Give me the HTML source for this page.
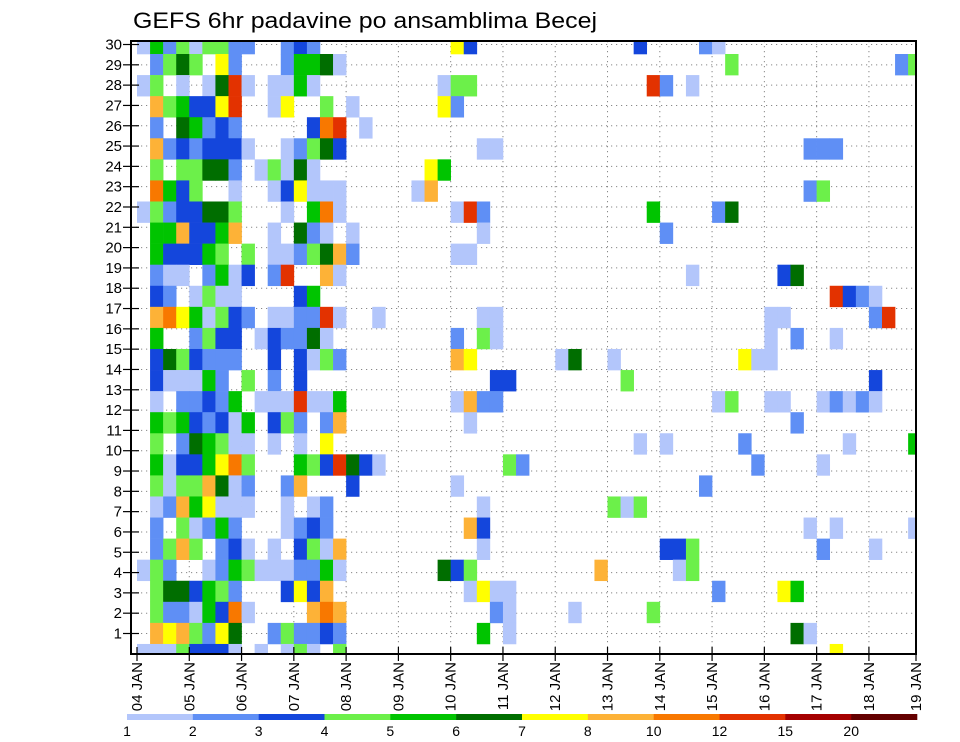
<!DOCTYPE html>
<html>
<head>
<meta charset="utf-8">
<style>
  html,body{margin:0;padding:0;background:#fff;}
  svg{display:block;font-family:"Liberation Sans",sans-serif;}
</style>
</head>
<body>
<svg id="chart" width="960" height="742" viewBox="0 0 960 742" xmlns="http://www.w3.org/2000/svg">
  <defs>
    <clipPath id="plotClip"><rect x="131" y="41" width="785" height="613"/></clipPath>
  </defs>
  <text x="133" y="28" font-size="22" textLength="464" lengthAdjust="spacingAndGlyphs" fill="#000">GEFS 6hr padavine po ansamblima Becej</text>
  <g id="grid"></g>
  <g id="cells" clip-path="url(#plotClip)"></g>
  <rect x="131" y="41" width="785" height="613" fill="none" stroke="#000" stroke-width="2"/>
  <g id="yaxis"></g>
  <g id="xaxis"></g>
  <g id="colorbar"></g>
</svg>
<script>
// ---- data ----
// color codes per 6h cell: 0 none, 1..9,a,b,c = colorbar classes
const palette = ["none","#b3c6fb","#5f8ff5","#1446dc","#6cf04a","#00c400","#006e00","#ffff00","#fdb237","#f87800","#e33200","#a50000","#640000"];
const levelLabels = ["1","2","3","4","5","6","7","8","10","12","15","20"];
const dayLabels = ["04 JAN","05 JAN","06 JAN","07 JAN","08 JAN","09 JAN","10 JAN","11 JAN","12 JAN","13 JAN","14 JAN","15 JAN","16 JAN","17 JAN","18 JAN","19 JAN"];
const memberTicks = [1,2,3,4,5,6,7,8,9,10,11,12,13,14,15,16,17,18,19,20,21,22,23,24,25,26,27,28,29,30];
// first 17 time steps for each ensemble band (top band first)
const leftBlockCodes = [
"15241442200232000",
"02464072000255610",
"1401016a101151000",
"0845337a001700401",
"020652320000039a0",
"08232333100124630",
"04044662014161000",
"09534001001371110",
"14233664000105910",
"05583358001062101",
"05333540401124682",
"02110251302a00810",
"03201411000035000",
"08975143201122a10",
"05002433013226100",
"03643222003031420",
"03111520402030000",
"010223250111a1150",
"05453231503420280",
"04026541101010700",
"051335794000543a6",
"04144861200280003",
"01285711100101200",
"02041252000123200",
"02484023101034180",
"14200125411122510",
"04663542000373800",
"04221539100008980",
"08784276002422320",
"11143331010141040"
];
// later cells: [band, timestep, code]
const sparseCells = [
[0,24,"7"],[0,25,"3"],[0,38,"3"],[0,43,"2"],[0,44,"1"],
[1,45,"4"],[1,58,"2"],[1,59,"4"],
[2,23,"1"],[2,24,"4"],[2,25,"4"],[2,39,"a"],[2,40,"2"],[2,42,"1"],
[3,23,"7"],[3,24,"2"],
[4,17,"1"],
[5,26,"1"],[5,27,"1"],[5,51,"2"],[5,52,"2"],[5,53,"2"],
[6,22,"7"],[6,23,"5"],
[7,21,"1"],[7,22,"8"],[7,51,"2"],[7,52,"4"],
[8,24,"1"],[8,25,"a"],[8,26,"2"],[8,39,"5"],[8,44,"2"],[8,45,"6"],
[9,26,"1"],[9,40,"2"],
[10,24,"1"],[10,25,"1"],
[11,42,"1"],[11,49,"3"],[11,50,"6"],
[12,53,"a"],[12,54,"3"],[12,55,"2"],[12,56,"1"],
[13,18,"1"],[13,26,"1"],[13,27,"1"],[13,48,"1"],[13,49,"1"],[13,56,"2"],[13,57,"a"],
[14,24,"2"],[14,26,"4"],[14,27,"1"],[14,48,"1"],[14,50,"2"],[14,53,"1"],
[15,24,"8"],[15,25,"7"],[15,32,"1"],[15,33,"6"],[15,36,"1"],[15,46,"7"],[15,47,"1"],[15,48,"1"],
[16,27,"3"],[16,28,"3"],[16,37,"4"],[16,56,"3"],
[17,24,"1"],[17,25,"8"],[17,26,"2"],[17,27,"2"],[17,44,"1"],[17,45,"4"],[17,48,"1"],[17,49,"1"],[17,52,"1"],[17,53,"2"],[17,54,"1"],[17,55,"2"],[17,56,"1"],
[18,25,"1"],[18,50,"2"],
[19,38,"1"],[19,40,"1"],[19,46,"2"],[19,54,"1"],[19,59,"5"],
[20,17,"3"],[20,18,"1"],[20,28,"4"],[20,29,"2"],[20,47,"2"],[20,52,"1"],
[21,24,"1"],[21,43,"2"],
[22,26,"1"],[22,36,"4"],[22,37,"1"],[22,38,"4"],
[23,25,"8"],[23,26,"3"],[23,51,"1"],[23,53,"1"],[23,59,"1"],
[24,26,"1"],[24,40,"3"],[24,41,"3"],[24,42,"4"],[24,52,"2"],[24,56,"1"],
[25,23,"6"],[25,24,"3"],[25,25,"4"],[25,35,"8"],[25,41,"1"],[25,42,"4"],
[26,25,"1"],[26,26,"7"],[26,27,"1"],[26,28,"1"],[26,44,"2"],[26,49,"7"],[26,50,"5"],
[27,27,"2"],[27,28,"1"],[27,33,"1"],[27,39,"4"],
[28,26,"5"],[28,28,"1"],[28,50,"6"],[28,51,"1"],
[29,53,"7"]
];

// ---- scales ----
const NS = "http://www.w3.org/2000/svg";
const X0 = 137, STEP_W = 13.07, DAY_W = STEP_W*4, X_RIGHT = 916;
const BAND_H = 21.07, BAND_Y0 = 54 - 21.07;
function xScale(step){ return X0 + step*STEP_W; }
function bandTop(band){ return BAND_Y0 + band*BAND_H; }
function yTick(member){ return 633.5 - (member-1)*20.31; }
function mk(tag, attrs, parent){
  const e = document.createElementNS(NS, tag);
  for (const k in attrs) e.setAttribute(k, attrs[k]);
  parent.appendChild(e);
  return e;
}
function codeIndex(c){ return parseInt(c, 16); }

const cellsG = document.getElementById("cells");
function drawCell(band, step, code){
  const idx = codeIndex(code);
  if (!idx) return;
  const r = mk("rect", {x: xScale(step).toFixed(2), y: bandTop(band).toFixed(2), width: (STEP_W+0.3).toFixed(2), height: (BAND_H+0.3).toFixed(2), fill: palette[idx]}, cellsG);
  
  
}
leftBlockCodes.forEach((row, band) => {
  row.split("").forEach((c, step) => drawCell(band, step, c));
});
sparseCells.forEach(([band, step, code]) => drawCell(band, step, code));

// ---- grid ----
const gridG = document.getElementById("grid");
memberTicks.forEach(m => {
  const y = yTick(m);
  const l = mk("line", {x1: 131, x2: 916, y1: y, y2: y, stroke: "#888", "stroke-width": 1, "stroke-dasharray": "1.2,3.8"}, gridG);
  
  
});
dayLabels.forEach((d, i) => {
  const x = Math.min(X0 + i*DAY_W, X_RIGHT);
  if (i === 0 || x >= X_RIGHT) return;
  const l = mk("line", {x1: x, x2: x, y1: 41, y2: 654, stroke: "#888", "stroke-width": 1, "stroke-dasharray": "1.2,3.8"}, gridG);
  
  
});

// ---- y axis ----
const yG = document.getElementById("yaxis");
memberTicks.forEach(m => {
  const y = yTick(m);
  const t = mk("line", {x1: 123, x2: 139, y1: y, y2: y, stroke: "#000", "stroke-width": 1.2}, yG);
  
  
  const tx = mk("text", {x: 122, y: y + 5, "font-size": 15, "text-anchor": "end", fill: "#000"}, yG);
  tx.textContent = String(m);
  
  
});

// ---- x axis ----
const xG = document.getElementById("xaxis");
dayLabels.forEach((d, i) => {
  const x = Math.min(X0 + i*DAY_W, X_RIGHT);
  const t = mk("line", {x1: x, x2: x, y1: 647, y2: 661, stroke: "#000", "stroke-width": 1.2}, xG);
  
  
  const tx = mk("text", {x: 0, y: 0, "font-size": 15, "text-anchor": "end", fill: "#000", transform: `translate(${(x+5).toFixed(1)},662) rotate(-90)`}, xG);
  tx.textContent = d;
  
  
});

// ---- colorbar ----
const cbG = document.getElementById("colorbar");
const CB_X0 = 127, CB_X1 = 917, CB_N = palette.length - 1, CB_W = (CB_X1 - CB_X0) / CB_N;
for (let i = 1; i <= CB_N; i++) {
  const r = mk("rect", {x: (CB_X0 + (i-1)*CB_W).toFixed(2), y: 714, width: (CB_W+0.3).toFixed(2), height: 6, fill: palette[i]}, cbG);
  
  
}
levelLabels.forEach((lab, i) => {
  const tx = mk("text", {x: (CB_X0 + i*CB_W).toFixed(1), y: 736, "font-size": 14, "text-anchor": "middle", fill: "#000"}, cbG);
  tx.textContent = lab;
  
  
});
</script>
</body>
</html>
